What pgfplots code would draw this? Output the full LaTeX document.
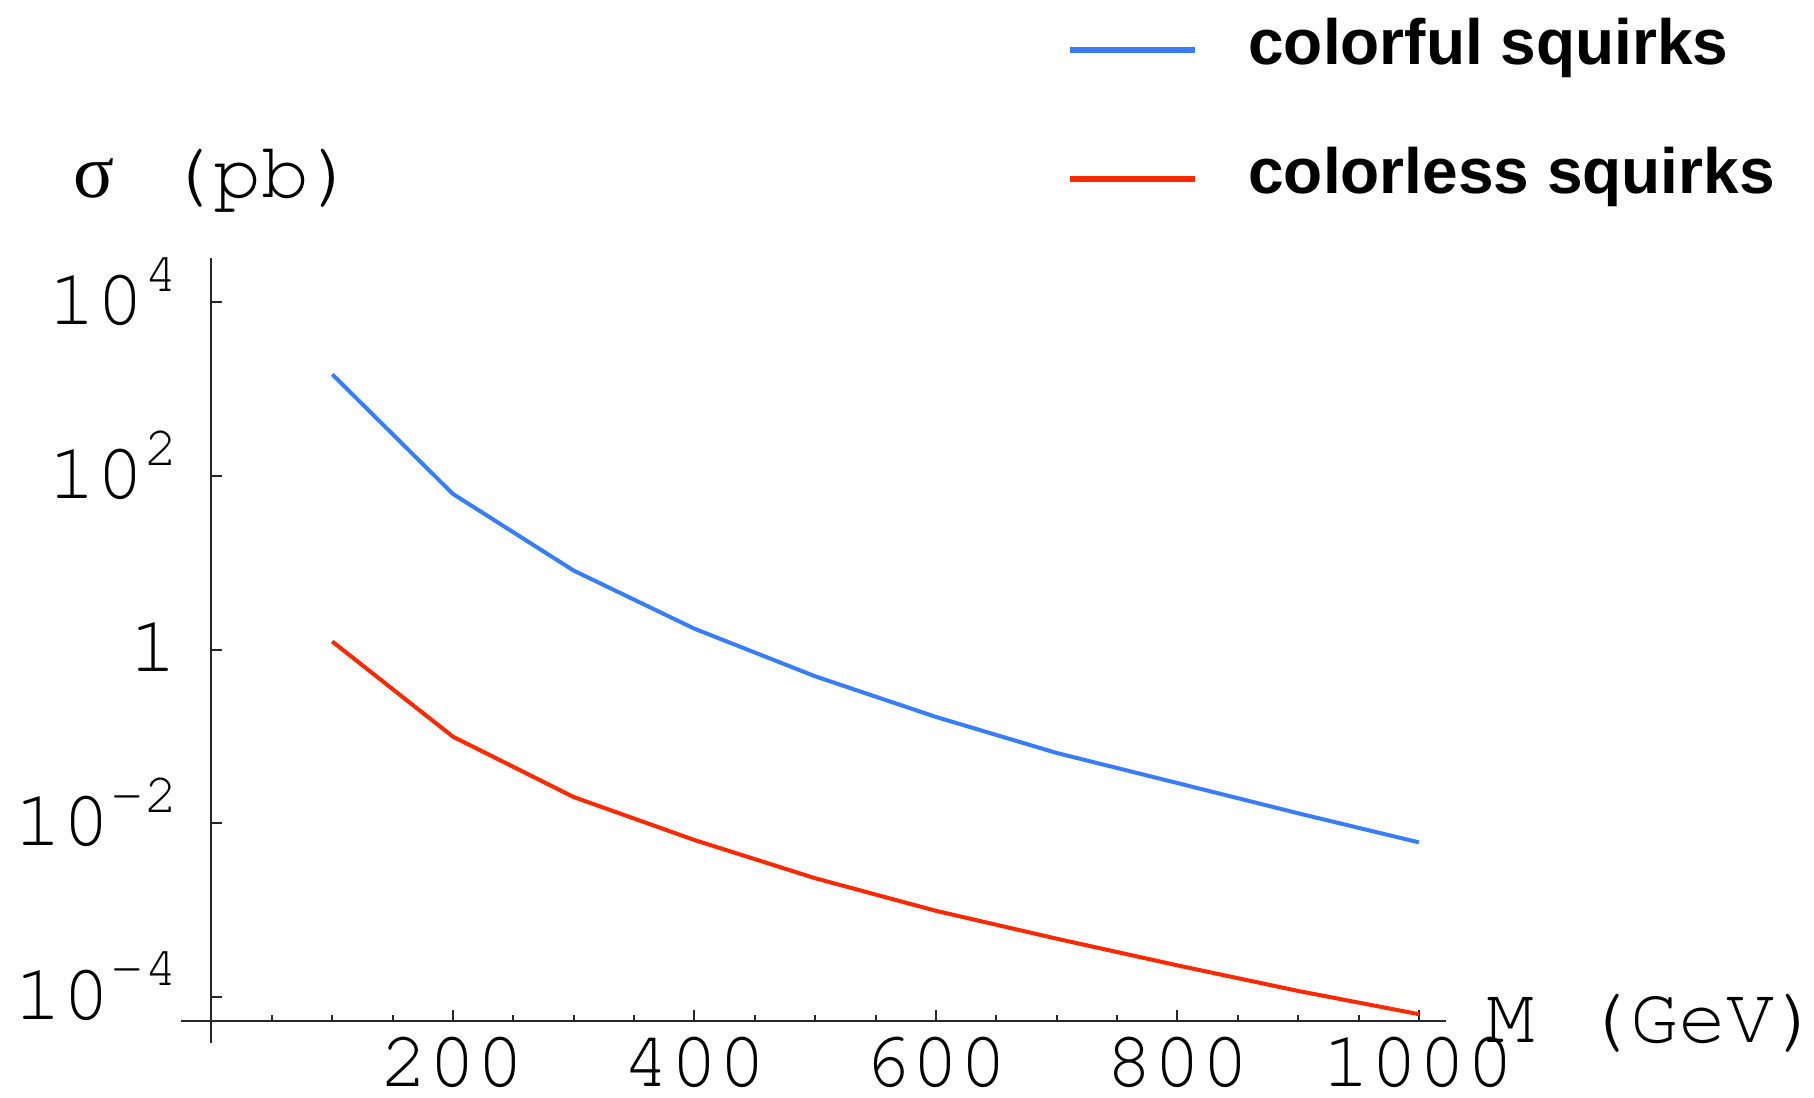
\documentclass[border=0pt]{standalone}
\usepackage{fontspec}
\usepackage{pgfplots}
\pgfplotsset{compat=1.18}
\setmainfont{Liberation Sans}
\newfontfamily\cour{texgyrecursor-regular.otf}
\newfontfamily\sigfont{Liberation Serif}
\definecolor{cblue}{RGB}{55,125,255}
\definecolor{cred}{RGB}{255,40,0}
\newcommand\tl[1]{10\raisebox{8.3pt}{\fontsize{14}{14}\selectfont #1}}
\begin{document}
\begin{tikzpicture}
\useasboundingbox (0,0) rectangle (453.5pt,274.25pt);
\begin{axis}[
  at={(45.325pt,13.45pt)}, anchor=south west,
  scale only axis, width=316.05pt, height=196.25pt,
  xmin=-25, xmax=1022,
  ymode=log, ymin=2.917e-5, ymax=32285,
  axis x line=bottom, axis y line=middle,
  axis x line shift=-5.6pt,
  every outer x axis line/.append style={-},
  every inner y axis line/.append style={-},
  every inner x axis line/.append style={-},
  every outer y axis line/.append style={-},
  axis line style={line width=0.5pt, black!85},
  tick style={line width=0.5pt, black!85},
  tick align=inside,
  major tick length=2.6pt, minor tick length=1.5pt,
  xtick={200,400,600,800,1000},
  xticklabels={200,400,600,800,1000},
  minor xtick={50,100,150,250,300,350,450,500,550,650,700,750,850,900,950},
  ytick={1e-4,1e-2,1,1e2,1e4},
  yticklabels={\tl{-4},\tl{-2},1,\tl{2},\tl{4}},
  yminorticks=false,
  xticklabel style={font=\cour\fontsize{20}{20}\selectfont, anchor=north, inner sep=0pt, yshift=-3.9pt},
  yticklabel style={font=\cour\fontsize{20}{20}\selectfont, anchor=base east, inner sep=0pt, xshift=-8.25pt, yshift=-5.6pt},
  legend image code/.code={\draw[#1, line width=1.5pt] (0pt,0pt) -- (31.25pt,0pt);},
  legend cell align=left,
  legend style={at={(0.7006,1.3060)}, anchor=north west, draw=none, fill=none,
    inner sep=0pt, outer sep=0pt, row sep=16.25pt,
    font=\bfseries\fontsize{16}{16}\selectfont,
    nodes={inner sep=0pt, text height=11.5pt, text depth=4.5pt},
    /tikz/every odd column/.append style={column sep=12.6pt}},
]
\addplot[cblue, line width=1pt] coordinates {
 (100,1483) (200,62.1) (300,8.13) (400,1.74) (500,0.492) (600,0.1675)
 (700,0.0644) (800,0.0290) (900,0.0130) (1000,0.00601)};
\addlegendentry{colorful squirks}
\addplot[cred, line width=1pt] coordinates {
 (100,1.24) (200,0.0993) (300,0.0200) (400,0.00640) (500,0.00232) (600,0.000978)
 (700,0.000467) (800,0.000230) (900,0.0001167) (1000,0.0000630)};
\addlegendentry{colorless squirks}
\end{axis}
\node[anchor=base west, inner sep=0pt] at (17.25pt,225pt)
  {\makebox[12pt][c]{\sigfont\fontsize{19}{19}\selectfont σ}{\cour\fontsize{20}{20}\selectfont\ (pb)}};
\node[anchor=base west, inner sep=0pt] at (371.4pt,13.75pt)
  {\cour\fontsize{20}{20}\selectfont M (GeV)};
\end{tikzpicture}
\end{document}
